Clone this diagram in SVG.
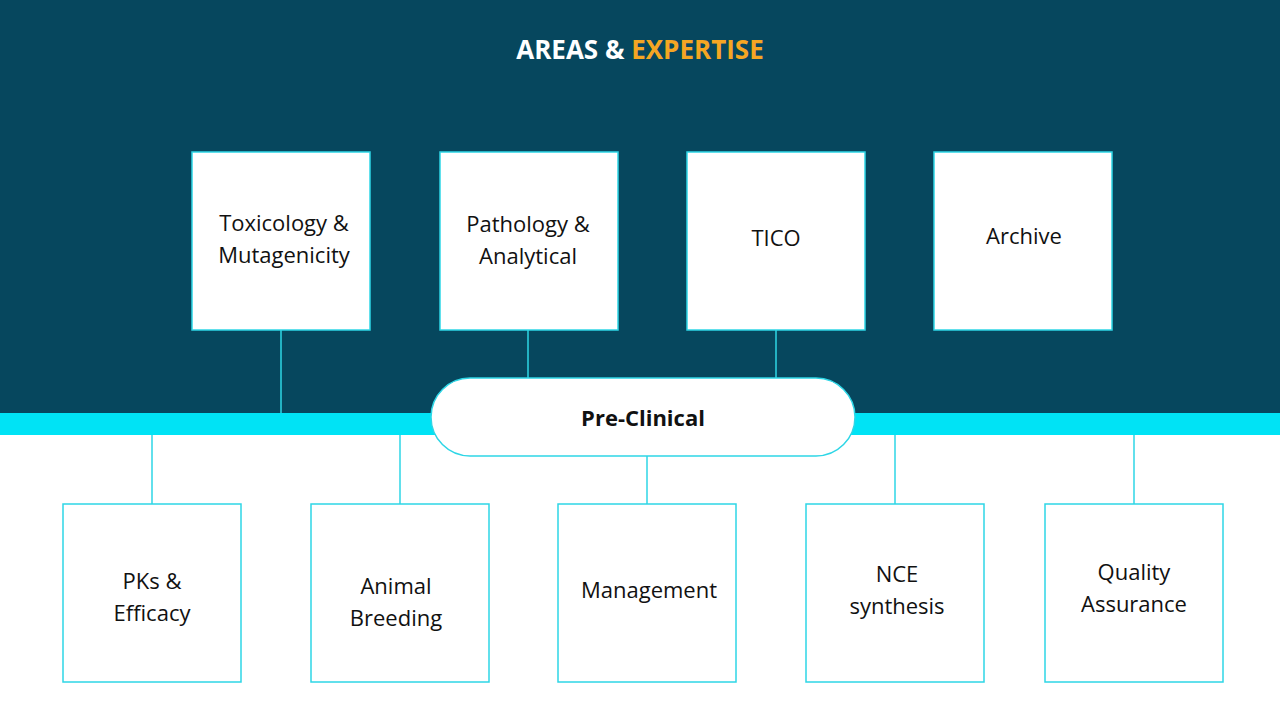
<svg xmlns="http://www.w3.org/2000/svg" width="1280" height="720" viewBox="0 0 1280 720">
<style>
.box{fill:#fff;stroke:#2ed6e6;stroke-width:1.5}
.t{font-family:"Open Sans","Liberation Sans",sans-serif;font-size:22px;fill:#111;text-anchor:middle}
.c{stroke:#2ed6e6;stroke-width:1.5;fill:none}
</style>
<rect x="0" y="0" width="1280" height="720" fill="#fff"/>
<rect x="0" y="0" width="1280" height="413" fill="#06475e"/>
<rect x="0" y="413" width="1280" height="22" fill="#00e3f5"/>
<text x="640" y="59" text-anchor="middle" font-family="'Open Sans','Liberation Sans',sans-serif" font-size="26" font-weight="bold" fill="#fff">AREAS &amp; <tspan fill="#f5a623">EXPERTISE</tspan></text>
<g id="connectors">
<line class="c" x1="281" y1="330" x2="281" y2="413"/>
<line class="c" x1="528" y1="330" x2="528" y2="378"/>
<line class="c" x1="776" y1="330" x2="776" y2="378"/>
<line class="c" x1="152" y1="435" x2="152" y2="504"/>
<line class="c" x1="400" y1="435" x2="400" y2="504"/>
<line class="c" x1="647" y1="456" x2="647" y2="504"/>
<line class="c" x1="895" y1="435" x2="895" y2="504"/>
<line class="c" x1="1134" y1="435" x2="1134" y2="504"/>
</g>
<g id="preclinical"><rect class="box" x="431" y="378" width="424" height="78" rx="39"/><text class="t" x="643" y="426" font-size="26" font-weight="bold">Pre-Clinical</text></g>
<g id="tox"><rect class="box" x="192" y="152" width="178" height="178"/><text class="t" x="284" y="231">Toxicology &amp;</text><text class="t" x="284" y="263">Mutagenicity</text></g>
<g id="path"><rect class="box" x="440" y="152" width="178" height="178"/><text class="t" x="528" y="232">Pathology &amp;</text><text class="t" x="528" y="264">Analytical</text></g>
<g id="tico"><rect class="box" x="687" y="152" width="178" height="178"/><text class="t" x="776" y="246">TICO</text></g>
<g id="archive"><rect class="box" x="934" y="152" width="178" height="178"/><text class="t" x="1024" y="244">Archive</text></g>
<g id="pks"><rect class="box" x="63" y="504" width="178" height="178"/><text class="t" x="152" y="589">PKs &amp;</text><text class="t" x="152" y="621">Efficacy</text></g>
<g id="animal"><rect class="box" x="311" y="504" width="178" height="178"/><text class="t" x="396" y="594">Animal</text><text class="t" x="396" y="626">Breeding</text></g>
<g id="mgmt"><rect class="box" x="558" y="504" width="178" height="178"/><text class="t" x="649" y="598">Management</text></g>
<g id="nce"><rect class="box" x="806" y="504" width="178" height="178"/><text class="t" x="897" y="582">NCE</text><text class="t" x="897" y="614">synthesis</text></g>
<g id="qa"><rect class="box" x="1045" y="504" width="178" height="178"/><text class="t" x="1134" y="580">Quality</text><text class="t" x="1134" y="612">Assurance</text></g>
</svg>
